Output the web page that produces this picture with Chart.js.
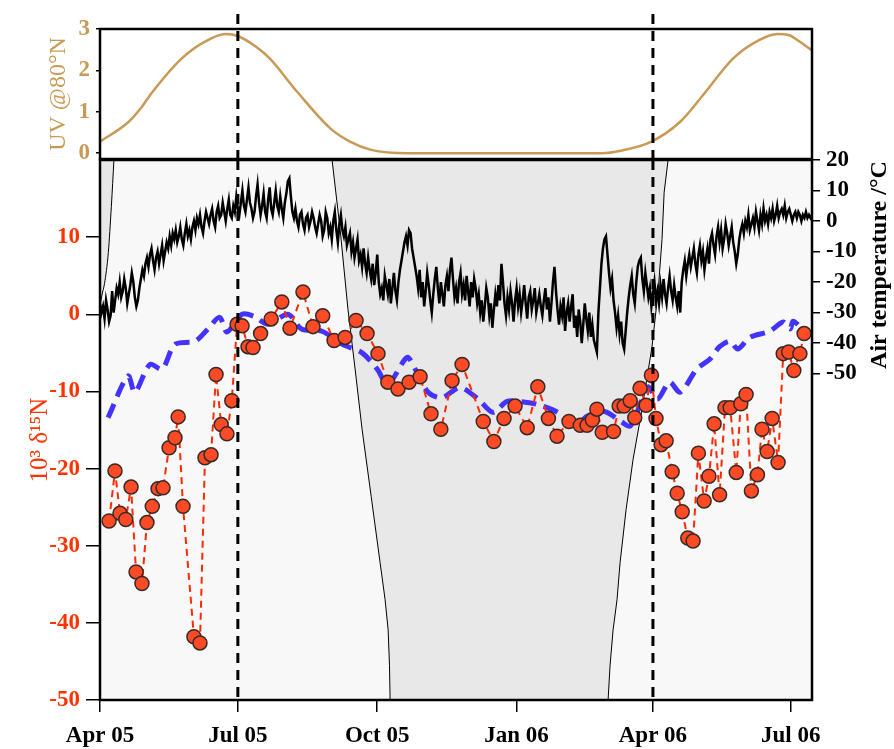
<!DOCTYPE html>
<html>
<head>
<meta charset="utf-8">
<script src="https://cdn.jsdelivr.net/npm/chart.js@4"></script>
<style>
  html, body { margin: 0; padding: 0; background: #fff; }
  #wrap { position: relative; width: 894px; height: 749px; }
  canvas { position: absolute; left: 0; }
  #main { top: 135px; }
  #uv { top: 0; }
</style>
</head>
<body>
<div id="wrap">
  <canvas id="main" width="894" height="614"></canvas>
  <canvas id="uv" width="894" height="184"></canvas>
</div>
<script>
// x = days since 1 Apr 2005
const xTickDays = [0, 91, 183, 275, 365, 456];
const xTickLabels = ["Apr 05", "Jul 05", "Oct 05", "Jan 06", "Apr 06", "Jul 06"];
const markerDays = [91, 365]; // dashed verticals

const uvTicks = [0, 1, 2, 3];
const n15Ticks = [-50, -40, -30, -20, -10, 0, 10];
const tempTicks = [-50, -40, -30, -20, -10, 0, 10, 20];

// UV @80N (top panel)
const uvDays = [0, 19, 27, 34, 54, 69, 83, 91, 103, 112, 130, 152, 165, 179, 203, 331, 344, 364, 383, 398, 418, 435, 447, 455, 462, 470];
const uvValues = [0.28, 0.76, 1.09, 1.45, 2.29, 2.69, 2.88, 2.83, 2.57, 2.29, 1.49, 0.6, 0.28, 0.08, 0.0, 0.0, 0.06, 0.28, 0.76, 1.4, 2.29, 2.73, 2.88, 2.85, 2.69, 2.48];

// daily air temperature, day 0 .. 470
const tempStep = 1;
const airTemp = [
  -27, -30, -28, -32, -26, -29, -33, -31, -23, -30,
  -26, -22, -24, -20, -25, -23, -19, -22, -27, -24,
  -21, -17, -20, -25, -28, -26, -22, -19, -16, -18,
  -14, -12, -15, -11, -9, -13, -16, -12, -10, -14,
  -11, -8, -13, -10, -7, -9, -5, -8, -4, -6,
  -3, -7, -5, -2, -6, -8, -4, -1, -5, -3,
  -6, -2, 0, -3, 1, -1, 2, -2, -4, 0,
  3, 1, -1, 2, 4, 0, -2, 3, 5, 1,
  2, 6, 3, 0, 4, 7, 2, 1, 5, 3,
  8, 4, 2, 6, 10, 5, 3, 7, 11, 6,
  4, 1, 3, 8, 12, 6, 2, 5, 9, 3,
  1, 7, 11, 4, 2, 6, 10, 5, 3, 8,
  4, 1, 6, 9, 13, 14, 8, 3, 1, 4,
  0, -2, 2, 3, -1, -3, 1, 2, -2, 0,
  3, 1, -2, -4, -1, 2, 0, -5, -3, 3,
  1, -4, -2, -6, 0, 3, -3, -7, -1, 2,
  -3, -5, -2, -8, -6, -4, -10, -7, -12, -9,
  -6, -13, -11, -15, -9, -14, -17, -12, -16, -19,
  -14, -21, -17, -11, -20, -24, -22, -26, -18, -21,
  -24, -19, -27, -22, -17, -23, -26, -20, -16, -13,
  -10, -7, -5, -8, -3, -4, -9, -12, -15, -18,
  -22, -16, -25, -20, -28, -23, -17, -21, -26, -30,
  -24, -19, -15, -22, -27, -20, -24, -28, -21, -18,
  -23, -16, -12, -19, -25, -22, -27, -20, -17, -24,
  -21, -26, -18, -23, -28, -20, -25, -19, -22, -27,
  -24, -30, -26, -33, -28, -22, -25, -31, -27, -35,
  -29, -24, -28, -21, -26, -14, -20, -27, -31, -25,
  -29, -23, -27, -33, -26, -22, -28, -24, -30, -26,
  -21, -27, -32, -25, -23, -29, -26, -22, -30, -27,
  -24, -28, -31, -26, -22, -29, -25, -33, -27, -20,
  -15, -23, -29, -34, -28, -31, -25, -36, -30, -27,
  -33, -28, -24, -35, -31, -38, -29, -33, -40, -34,
  -27, -32, -36, -30, -38, -34, -39, -41, -43, -30,
  -22, -14, -9, -6, -5, -11, -17, -22, -19, -26,
  -30, -35, -31, -37, -33, -40, -42, -36, -30, -25,
  -21, -18, -24, -27, -20, -15, -13, -12, -19, -23,
  -17, -21, -25, -22, -28, -24, -20, -26, -23, -27,
  -21, -25, -19, -24, -27, -22, -18, -23, -26, -21,
  -25, -28, -23, -30, -20, -16, -13, -18, -14, -11,
  -15, -12, -9, -14, -17, -11, -8, -13, -10, -16,
  -12, -9, -14, -6, -4, -8, -11, -5, -2, -7,
  -3, -9, -6, -1, -4, -8, -5, -2, -7, -10,
  -14, -11, -6, -3, -1, -4, 0, -2, 2, -3,
  -1, 1, -2, 3, 0, -3, 2, -1, 4, 0,
  2, -1, 3, 1, 4, 0, 2, 5, 1, 3,
  4, 2, 5, 1, 3, 4, 2, 0, 2, 3,
  1, 3, 2, 0, 2, 1, 3, 1, 2, 1,
  2
];

// blue dashed curve
const blueDays = [5.3, 18.5, 23, 33, 41, 49.5, 62.7, 71.3, 79, 83.8,
  93.8, 102, 111, 124, 133, 146.6, 160, 173, 183, 190,
  202.7, 208, 216.6, 225.8, 237.7, 249.6, 259.5, 268.7, 280.6, 289,
  302, 313.6, 321.5, 333, 344.6, 350, 358, 362, 368, 376,
  383, 394, 402.7, 409, 416, 421, 429, 442, 451, 455.6, 457.5, 463.5];
const blueValues = [-13.4, -8.0, -10.1, -6.5, -7.1, -3.9, -3.5, -1.9, -0.4, -2.3,
  0, -0.3, -1.3, 0, -1.9, -2.2, -3.9, -5.0, -7.1, -9.1,
  -5.6, -7.1, -10.1, -10.8, -9.5, -11.0, -12.7, -11.3, -11.4, -11.7,
  -12.7, -14.5, -13.2, -12.6, -14.0, -14.5, -11.0, -9.4, -11.0, -8.8,
  -10.1, -7.1, -5.8, -4.2, -3.5, -4.5, -3.0, -2.2, -1.0, -1.9, -0.9, -1.9];

// 10^3 d15N samples
const n15Days = [6.0, 9.9, 13.2, 17.0, 20.5, 23.8, 27.7, 31.0, 34.5, 38.3,
  41.6, 45.6, 49.5, 51.6, 54.8, 62.0, 66.0, 69.3, 73.3, 76.6,
  80.0, 83.8, 87.0, 90.5, 93.8, 97.7, 101, 106, 113, 120,
  125.4, 134, 140.6, 147, 154.5, 161.8, 169, 176.3, 183.5, 190,
  196.7, 204, 211.3, 218.5, 225, 232.4, 239, 253, 260, 266.7,
  274, 282, 289, 296, 301.7, 309.6, 317, 321.5, 325, 328,
  331.5, 339, 342.7, 346, 350, 353, 356.5, 360.5, 364, 367,
  370.4, 373.7, 377.7, 381, 384.3, 388, 391.5, 395, 398.8, 402,
  405.4, 409, 412.6, 416, 420, 423, 426.5, 430, 434, 437,
  440.4, 443.7, 447.6, 451, 454.6, 458, 462, 464.8];
const n15Values = [-26.8, -20.3, -25.8, -26.6, -22.4, -33.4, -34.9, -27.0, -24.9, -22.6,
  -22.5, -17.3, -16.0, -13.3, -24.9, -41.8, -42.6, -18.6, -18.2, -7.8,
  -14.3, -15.5, -11.2, -1.3, -1.5, -4.2, -4.3, -2.5, -0.6, 1.6,
  -1.8, 2.9, -1.6, -0.2, -3.4, -3.0, -0.8, -2.5, -5.1, -8.8,
  -9.7, -8.8, -8.1, -12.9, -14.9, -8.6, -6.5, -13.9, -16.5, -13.5,
  -11.9, -14.7, -9.4, -13.5, -15.8, -13.9, -14.4, -14.4, -13.7, -12.3,
  -15.3, -15.2, -11.9, -11.9, -11.2, -13.4, -9.6, -11.8, -7.9, -13.5,
  -16.9, -16.4, -20.4, -23.2, -25.6, -29.0, -29.4, -18.0, -24.2, -21.0,
  -14.2, -23.4, -12.1, -12.1, -20.5, -11.6, -10.4, -22.9, -20.8, -14.9,
  -17.8, -13.5, -19.2, -5.1, -4.9, -7.3, -5.1, -2.5];

// darker shaded areas (outline in d15N units, filled up to the top)
const darkLeftDays = [0, 1.3, 3, 5.5, 7.5, 9.2];
const darkLeftVals = [1, 2.5, 4, 8, 14, 20];
const darkMidDays = [153.2, 158.5, 163.7, 168.4, 173.0, 179.0, 184.9, 188.2, 190.2, 191.1, 191.5,
  335.4, 336.7, 338.7, 341.3, 343.3, 347.3, 351.9, 357.8, 364.4, 368.4, 371.0, 372.4, 375.0];
const darkMidVals = [20, 11, 0.6, -7.1, -14.9, -23.6, -32.2, -37, -40.9, -45.5, -50,
  -50, -45.5, -40.9, -37, -32.2, -25.3, -18.8, -12.3, -4.2, 2.9, 9.7, 15.8, 20];

const tan = "#c99a55";
const red = "#ff3300";
Chart.defaults.font.family = '"Liberation Serif", "Times New Roman", serif';
Chart.defaults.animation = false;

const pts = (xs, ys) => xs.map((x, i) => ({ x: x, y: ys[i] }));

// frame + dashed verticals
const frame = {
  id: "frame",
  beforeDraw(chart, args, o) {
    const { ctx, chartArea: a } = chart;
    if (o.bg) {
      ctx.save();
      ctx.fillStyle = o.bg;
      ctx.fillRect(a.left, a.top, a.right - a.left, a.bottom - a.top);
      ctx.restore();
    }
  },
  afterDatasetsDraw(chart, args, o) {
    const { ctx, chartArea: a } = chart;
    const x = chart.scales.x;
    ctx.save();
    ctx.strokeStyle = "#000";
    ctx.lineWidth = 3;
    ctx.setLineDash([10, 7]);
    markerDays.forEach(d => {
      const px = x.getPixelForValue(d);
      ctx.beginPath();
      ctx.moveTo(px, o.vTop != null ? o.vTop : a.top);
      ctx.lineTo(px, a.bottom);
      ctx.stroke();
    });
    ctx.setLineDash([]);
    ctx.lineWidth = 2.5;
    ctx.strokeRect(a.left, a.top, a.right - a.left, a.bottom - a.top);
    ctx.restore();
  }
};

// rotated axis titles placed by hand (not centred on their axes)
const sideTitle = {
  id: "sideTitle",
  afterDraw(chart, args, o) {
    const c = chart.ctx;
    (o.items || []).forEach(t => {
      c.save();
      c.translate(t.x, t.y);
      c.rotate(-Math.PI / 2);
      c.font = t.font;
      c.fillStyle = t.color;
      c.textAlign = "center";
      c.textBaseline = "middle";
      c.fillText(t.text, 0, 0);
      c.restore();
    });
  }
};

const tickFont = { size: 23, weight: "bold" };

new Chart(document.getElementById("main"), {
  type: "line",
  data: {
    datasets: [
      {
        data: pts(n15Days, n15Values),
        yAxisID: "y",
        order: 0,
        borderColor: "#ff2a00",
        borderWidth: 2,
        borderDash: [7, 5],
        pointRadius: 7,
        pointBackgroundColor: "#ff4a26",
        pointBorderColor: "#3a2a26",
        pointBorderWidth: 1.5,
        tension: 0,
        fill: false
      },
      {
        data: pts(blueDays, blueValues),
        yAxisID: "y",
        order: 1,
        borderColor: "#4433ff",
        borderWidth: 5,
        borderDash: [15, 8],
        pointRadius: 0,
        tension: 0.3,
        fill: false
      },
      {
        data: airTemp.map((v, i) => ({ x: i * tempStep, y: v })),
        yAxisID: "yT",
        order: 2,
        borderColor: "#000",
        borderWidth: 2.5,
        pointRadius: 0,
        tension: 0,
        fill: false
      },
      {
        data: pts(darkLeftDays, darkLeftVals),
        yAxisID: "y",
        order: 3,
        borderColor: "#000",
        borderWidth: 1,
        backgroundColor: "#e8e8e8",
        pointRadius: 0,
        cubicInterpolationMode: "monotone",
        fill: "end"
      },
      {
        data: pts(darkMidDays, darkMidVals),
        yAxisID: "y",
        order: 4,
        borderColor: "#000",
        borderWidth: 1,
        backgroundColor: "#e8e8e8",
        pointRadius: 0,
        tension: 0,
        fill: "end"
      }
    ]
  },
  options: {
    responsive: false,
    layout: { padding: { top: 25, left: 0, right: 0, bottom: 0 } },
    plugins: {
      legend: { display: false },
      tooltip: { enabled: false },
      frame: { bg: "#f8f8f8" },
      sideTitle: {
        items: [
          { text: "Air temperature /°C", x: 880, y: 130, font: "bold 24px 'Liberation Serif', serif", color: "#000" },
          { text: "10³ δ¹⁵N", x: 40, y: 305, font: "25px 'Liberation Serif', serif", color: red }
        ]
      }
    },
    scales: {
      x: {
        type: "linear",
        min: 0,
        max: 470,
        afterFit: s => { s.height = 49; },
        afterBuildTicks: s => { s.ticks = xTickDays.map(v => ({ value: v })); },
        ticks: { callback: (v, i) => xTickLabels[i], color: "#000", font: tickFont, padding: 10, autoSkip: false, maxRotation: 0 },
        grid: { drawOnChartArea: false, tickLength: 12, color: "#000", lineWidth: 1.5 },
        border: { display: false }
      },
      y: {
        position: "left",
        min: -50,
        max: 20,
        afterFit: s => { s.width = 100; },
        afterBuildTicks: s => { s.ticks = n15Ticks.map(v => ({ value: v })); },
        ticks: { color: red, font: tickFont, padding: 6 },
        grid: { drawOnChartArea: false, tickLength: 14, color: "#000", lineWidth: 1.5 },
        border: { display: false }
      },
      yT: {
        position: "right",
        min: -157,
        max: 20,
        afterFit: s => { s.width = 82; },
        afterBuildTicks: s => { s.ticks = tempTicks.map(v => ({ value: v })); },
        ticks: { color: "#000", font: tickFont, padding: 6 },
        grid: { drawOnChartArea: false, tickLength: 8, color: "#000", lineWidth: 1.5 },
        border: { display: false }
      }
    }
  },
  plugins: [frame, sideTitle]
});

new Chart(document.getElementById("uv"), {
  type: "line",
  data: {
    datasets: [{
      data: pts(uvDays, uvValues),
      borderColor: tan,
      borderWidth: 2.5,
      pointRadius: 0,
      cubicInterpolationMode: "monotone",
      fill: false
    }]
  },
  options: {
    responsive: false,
    layout: { padding: { top: 29, right: 82, bottom: 25, left: 0 } },
    plugins: {
      legend: { display: false },
      tooltip: { enabled: false },
      frame: { vTop: 14 }
    },
    scales: {
      x: { type: "linear", min: 0, max: 470, display: false },
      y: {
        min: -0.14,
        max: 3,
        afterFit: s => { s.width = 100; },
        afterBuildTicks: s => { s.ticks = uvTicks.map(v => ({ value: v })); },
        ticks: { color: tan, font: tickFont, padding: 6 },
        grid: { drawOnChartArea: false, tickLength: 4, color: "#000", lineWidth: 1.5 },
        border: { display: false },
        title: { display: true, text: "UV @80°N", color: tan, font: { size: 24, weight: "normal" }, padding: { top: 44 } }
      }
    }
  },
  plugins: [frame]
});
</script>
</body>
</html>
